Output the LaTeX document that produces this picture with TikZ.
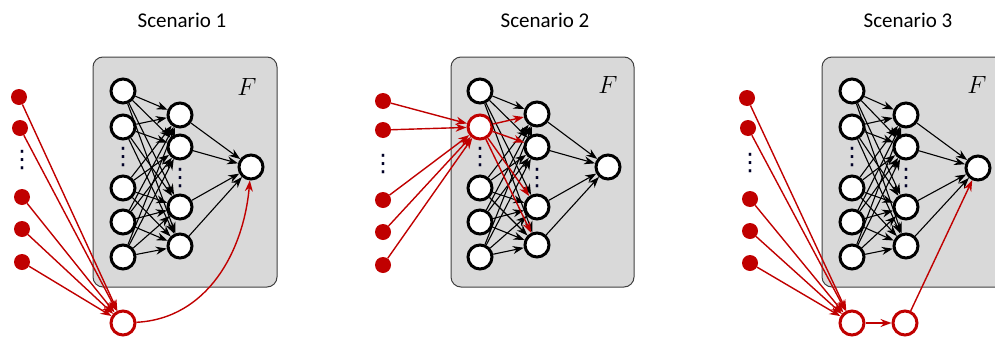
\documentclass[tikz,border=0pt]{standalone}
\usepackage{fontspec}
\setsansfont{Carlito}
\newfontfamily\symfont{DejaVu Sans}
\usepackage{tikz}
\usetikzlibrary{arrows.meta,positioning,calc}
\definecolor{nred}{RGB}{192,0,0}
\definecolor{boxgray}{RGB}{217,217,217}
\tikzset{
  nnode/.style={circle,draw,line width=3pt,fill=white,minimum size=24pt,inner sep=0pt},
  rnode/.style={circle,draw=nred,line width=3pt,fill=white,minimum size=24pt,inner sep=0pt},
  rdot/.style={circle,fill=nred,minimum size=16pt,inner sep=0pt},
  netbox/.style={draw=black!75,line width=1pt,fill=boxgray,rounded corners=10pt},
  ttl/.style={font=\sffamily\fontsize{21}{21}\selectfont},
  fl/.style={font=\fontsize{28}{28}\selectfont},
  vd/.style={font=\symfont\fontsize{24}{24}\selectfont,inner sep=0pt,text=black!85!blue},
  be/.style={-{Stealth[length=11pt,width=8pt]},line width=1.1pt},
  re/.style={-{Stealth[length=11pt,width=8pt]},line width=1.4pt,draw=nred}
}

\begin{document}
\begin{tikzpicture}[x=1pt,y=-1pt]
\useasboundingbox (0,0) rectangle (995,343);

% scenario 1
\node[ttl] (T1) at (182,20) {Scenario 1};
\draw[netbox] (93,57) rectangle (277,287);
\node[fl] (F1) at (247,87) {$F$};
\foreach \i/\y in {1/91,2/127,3/188,4/222,5/257}
  \node[nnode] (a1\i) at (123,\y) {};
\foreach \j/\y in {1/115,2/147,3/207,4/246}
  \node[nnode] (b1\j) at (180,\y) {};
\node[nnode] (o1) at (251,167) {};
\node[vd] (da1) at (123,157) {⋮};
\node[vd] (db1) at (180,178) {⋮};
\foreach \i in {1,...,5}
  \foreach \j in {1,...,4}
    \draw[be] (a1\i) -- (b1\j);
\foreach \j in {1,...,4}
  \draw[be] (b1\j) -- (o1);
\foreach \k/\x/\y in {1/19/97,2/20/128,3/22/197,4/22/229,5/22/262}
  \node[rdot] (r1\k) at (\x,\y) {};
\node[vd] (dr1) at (22,160) {⋮};
\node[rnode] (h1) at (123,323) {};
\foreach \k in {1,...,5}
  \draw[re] (r1\k) -- (h1);
\draw[re] (h1) to[out=3,in=-95] (o1);

% scenario 2
\node[ttl] (T2) at (545,20) {Scenario 2};
\draw[netbox] (451,57) rectangle (634,287);
\node[fl] (F2) at (608,85) {$F$};
\foreach \i/\y in {1/91,3/188,4/222,5/257}
  \node[nnode] (a2\i) at (480,\y) {};
\node[rnode] (a22) at (480,127) {};
\foreach \j/\y in {1/114,2/147,3/207,4/245}
  \node[nnode] (b2\j) at (537,\y) {};
\node[nnode] (o2) at (608,167) {};
\node[vd] (da2) at (480,157) {⋮};
\node[vd] (db2) at (537,178) {⋮};
\foreach \i in {1,3,4,5}
  \foreach \j in {1,...,4}
    \draw[be] (a2\i) -- (b2\j);
\foreach \j in {1,...,4}
  \draw[re] (a22) -- (b2\j);
\foreach \j in {1,...,4}
  \draw[be] (b2\j) -- (o2);
\foreach \k/\y in {1/101,2/130,3/200,4/232,5/265}
  \node[rdot] (r2\k) at (383,\y) {};
\node[vd] (dr2) at (383,164) {⋮};
\foreach \k in {1,...,5}
  \draw[re] (r2\k) -- (a22);

% scenario 3
\node[ttl] (T3) at (908,20) {Scenario 3};
\draw[netbox] (822,57) rectangle (1010,287);
\node[fl] (F3) at (977,85) {$F$};
\foreach \i/\y in {1/91,2/127,3/188,4/222,5/257}
  \node[nnode] (a3\i) at (852,\y) {};
\foreach \j/\y in {1/115,2/147,3/207,4/246}
  \node[nnode] (b3\j) at (906,\y) {};
\node[nnode] (o3) at (978,168) {};
\node[vd] (da3) at (852,157) {⋮};
\node[vd] (db3) at (906,178) {⋮};
\foreach \i in {1,...,5}
  \foreach \j in {1,...,4}
    \draw[be] (a3\i) -- (b3\j);
\foreach \j in {1,...,4}
  \draw[be] (b3\j) -- (o3);
\foreach \k/\x/\y in {1/747/98,2/748/128,3/750/199,4/750/231,5/750/263}
  \node[rdot] (r3\k) at (\x,\y) {};
\node[vd] (dr3) at (750,163) {⋮};
\node[rnode] (h3) at (852,323) {};
\node[rnode] (g3) at (905,323) {};
\foreach \k in {1,...,5}
  \draw[re] (r3\k) -- (h3);
\draw[re] (h3) -- (g3);
\draw[re] (g3) -- (o3);
\end{tikzpicture}
\end{document}
